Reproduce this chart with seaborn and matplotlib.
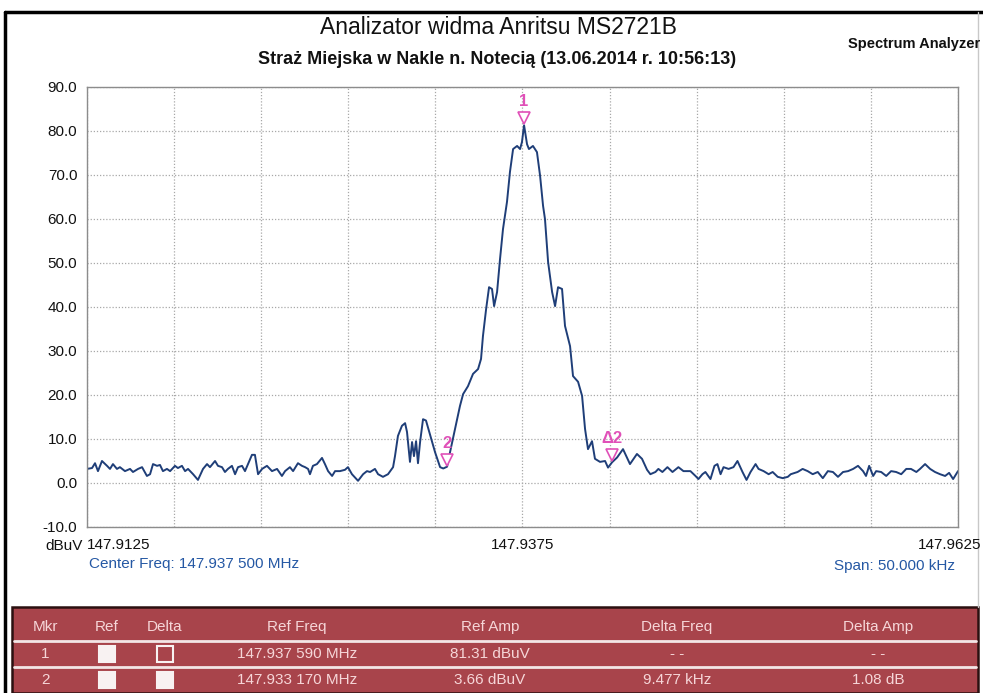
import numpy as np
import pandas as pd
import matplotlib
matplotlib.use("Agg")
import matplotlib.pyplot as plt
import seaborn as sns
from matplotlib import font_manager
from matplotlib.transforms import offset_copy
from matplotlib.patches import Rectangle

# ---------------- data ----------------
start_mhz = 147.9125
stop_mhz = 147.9625
offset_khz = [0.00, 0.29, 0.46, 0.63, 0.86, 1.15, 1.32, 1.49, 1.72, 1.89, 2.18, 2.47, 2.64, 2.93,
              3.16, 3.44, 3.62, 3.79, 4.02, 4.19, 4.36, 4.59, 4.77, 5.05, 5.22, 5.45, 5.63, 5.80,
              6.09, 6.37, 6.66, 6.89, 7.06, 7.35, 7.52, 7.75, 7.92, 8.09, 8.32, 8.50, 8.67, 8.90,
              9.07, 9.24, 9.47, 9.64, 9.82, 10.05, 10.33, 10.62, 10.91, 11.19, 11.37, 11.65, 11.83,
              12.11, 12.34, 12.52, 12.69, 12.80, 12.97, 13.20, 13.49, 13.66, 13.84, 14.07, 14.24,
              14.52, 14.81, 14.98, 15.21, 15.56, 15.85, 16.07, 16.25, 16.53, 16.71, 16.99, 17.28,
              17.57, 17.68, 17.85, 18.08, 18.26, 18.37, 18.54, 18.66, 18.77, 18.89, 19.00, 19.12,
              19.29, 19.46, 19.69, 19.98, 20.27, 20.45, 20.67, 20.84, 21.13, 21.41, 21.59, 21.87,
              22.16, 22.45, 22.62, 22.73, 22.91, 23.08, 23.25, 23.37, 23.54, 23.71, 23.88, 24.11,
              24.28, 24.46, 24.69, 24.86, 24.97, 25.09, 25.26, 25.37, 25.60, 25.83, 26.01, 26.18,
              26.29, 26.47, 26.70, 26.87, 27.04, 27.27, 27.44, 27.73, 27.90, 28.19, 28.42, 28.59,
              28.76, 28.99, 29.16, 29.45, 29.74, 29.91, 30.14, 30.43, 30.77, 31.17, 31.57, 31.86,
              32.15, 32.34, 32.63, 32.80, 33.03, 33.32, 33.61, 33.95, 34.24, 34.64, 34.93, 35.10,
              35.33, 35.50, 35.79, 36.02, 36.19, 36.37, 36.54, 36.83, 37.11, 37.34, 37.63, 37.86,
              38.09, 38.38, 38.55, 38.84, 39.13, 39.36, 39.65, 39.94, 40.23, 40.40, 40.79, 41.08,
              41.37, 41.66, 41.95, 42.24, 42.53, 42.82, 43.11, 43.40, 43.69, 43.98, 44.26, 44.55,
              44.72, 44.90, 45.13, 45.30, 45.59, 45.88, 46.16, 46.45, 46.74, 47.03, 47.30, 47.61,
              47.82, 48.11, 48.40, 48.68, 48.97, 49.26, 49.49, 49.72, 50.00]
level_dbuv = [3.2, 3.4, 4.5, 2.7, 5.0, 3.9, 3.2, 4.3, 3.2, 3.6, 2.7, 3.2, 2.5, 3.2,
              3.6, 1.6, 2.0, 4.3, 3.9, 4.1, 2.7, 3.2, 2.7, 3.9, 3.4, 3.9, 2.7, 3.2,
              2.0, 0.7, 3.2, 4.3, 3.6, 5.0, 3.9, 3.6, 2.5, 3.2, 3.9, 2.0, 3.6, 3.9,
              2.7, 4.3, 6.4, 6.4, 2.0, 3.2, 3.9, 2.7, 3.2, 1.6, 2.7, 3.6, 2.7,
              4.5, 3.9, 3.6, 3.2, 2.0, 3.9, 4.3, 5.7, 4.3, 2.7, 1.6, 2.7,
              2.7, 3.0, 3.6, 2.0, 0.5, 2.0, 2.7, 2.5, 3.2, 2.0, 1.4, 2.0,
              3.6, 6.1, 10.7, 13.0, 13.6, 11.6, 4.8, 9.3, 6.1, 9.5, 4.5, 9.3,
              14.5, 14.2, 11.0, 7.0, 3.6, 3.3, 3.7, 7.0, 12.3, 17.5, 20.2, 22.0,
              24.8, 25.9, 28.2, 33.4, 39.5, 44.5, 44.1, 40.2, 43.4, 50.9, 57.7, 63.9,
              70.7, 75.9, 76.6, 75.9, 77.5, 81.3, 77.0, 75.9, 76.6, 75.2, 69.8, 63.0,
              60.0, 50.2, 43.4, 40.2, 44.5, 44.1, 35.7, 31.1, 24.3, 23.0, 19.8, 12.3,
              7.7, 9.5, 5.5, 4.8, 5.0, 3.5, 4.7, 5.8, 7.7, 4.3, 6.6, 5.5,
              3.0, 2.0, 2.5, 3.2, 2.5, 3.6, 2.5, 3.6, 2.7, 2.7, 1.6, 0.9,
              2.0, 2.5, 0.9, 3.9, 4.3, 2.0, 3.6, 3.2, 3.6, 5.0, 2.5, 0.7,
              2.5, 4.3, 3.2, 2.7, 2.0, 2.5, 1.4, 1.1, 1.4, 2.0, 2.5, 3.2,
              2.7, 2.0, 2.5, 1.1, 2.7, 2.5, 1.4, 2.5, 2.7, 3.2, 3.9, 2.7,
              1.6, 3.9, 1.6, 2.7, 2.5, 1.6, 2.7, 2.5, 2.0, 3.2, 3.2, 2.5,
              3.2, 4.3, 3.2, 2.5, 2.0, 1.6, 2.3, 0.9, 2.7]

marker_freq_mhz = [147.937590, 147.933170, 147.942647]
marker_amp = [81.31, 3.66, 4.74]
marker_labels = ["1", "2", "\u03942"]

ytick_values = [-10, 0, 10, 20, 30, 40, 50, 60, 70, 80, 90]
xtick_labels = ["147.9125", "147.9375", "147.9625"]

title = "Analizator widma Anritsu MS2721B"
subtitle = "Stra\u017c Miejska w Nakle n. Noteci\u0105 (13.06.2014 r. 10:56:13)"
corner_label = "Spectrum Analyzer"
center_text = "Center Freq: 147.937 500 MHz"
span_text = "Span: 50.000 kHz"
unit_text = "dBuV"

table_header = ["Mkr", "Ref", "Delta", "Ref Freq", "Ref Amp", "Delta Freq", "Delta Amp"]
table_row1 = ["1", "", "", "147.937 590 MHz", "81.31 dBuV", "- -", "- -"]
table_row2 = ["2", "", "", "147.933 170 MHz", "3.66 dBuV", "9.477 kHz", "1.08 dB"]

# ---------------- style ----------------
sns.set_style("white")
names = {f.name for f in font_manager.fontManager.ttflist}
narrow = "Liberation Sans Narrow" if "Liberation Sans Narrow" in names else "Liberation Sans"
plt.rcParams["font.family"] = ["Liberation Sans", "DejaVu Sans"]

W, H = 983, 693
fig = plt.figure(figsize=(W / 100, H / 100), dpi=100)
fig.patch.set_facecolor("white")

# overlay in pixel coordinates for page decorations
ov = fig.add_axes([0, 0, 1, 1])
ov.set_xlim(0, W)
ov.set_ylim(H, 0)
ov.axis("off")

# main chart
ax = fig.add_axes([87 / W, 1 - 527 / H, 871 / W, 440 / H])
df = pd.DataFrame({"freq": start_mhz + np.array(offset_khz) / 1000.0, "level": level_dbuv})
sns.lineplot(data=df, x="freq", y="level", ax=ax, color="#1f3e78", lw=1.4)
ax.set_xlim(start_mhz, stop_mhz)
ax.set_ylim(-10, 90)
ax.set_xlabel("")
ax.set_ylabel("")

xt = np.linspace(start_mhz, stop_mhz, 11)
ax.set_xticks(xt)
lbls = [""] * 11
lbls[0], lbls[5] = xtick_labels[0], xtick_labels[1]
ax.set_xticklabels(lbls, fontsize=11)
tl = ax.get_xticklabels()
tl[0].set_ha("left")
ax.set_yticks(ytick_values)
ax.set_yticklabels([f"{v:.1f}" for v in ytick_values], fontsize=11)
ax.tick_params(axis="both", length=0, pad=7, colors="#111111")
ax.tick_params(axis="x", pad=8)
ax.grid(True, color="#a8a8a8", linestyle=(0, (1, 1.5)), lw=0.9)
for s in ax.spines.values():
    s.set_color("#8c8c8c")
    s.set_linewidth(1.0)
# right-hand tick label sits past the plot edge, as in the reference
ov.text(981, 545, xtick_labels[2], fontsize=11, ha="right", va="center", color="#111111")

# markers
for f, a, lab in zip(marker_freq_mhz, marker_amp, marker_labels):
    tr = offset_copy(ax.transData, fig=fig, x=0, y=5, units="points")
    ax.plot([f], [a], marker="v", ms=8.5, mfc="white", mec="#e050b8", mew=1.2,
            transform=tr, clip_on=False, zorder=5)
    tr2 = offset_copy(ax.transData, fig=fig, x=0, y=17, units="points")
    ax.text(f, a, lab, transform=tr2, color="#e050b8", fontsize=12, fontweight="bold",
            ha="center", va="center", family=[narrow, "DejaVu Sans"], zorder=6)

# page frame
ov.plot([5, 5], [12, H], color="black", lw=2.5)
ov.plot([5, W], [12, 12], color="black", lw=2.5)
ov.plot([978, 978], [12, 607], color="#c8c8c8", lw=1)

# titles
ov.text(498, 27, title, fontsize=16.5, ha="center", va="center", color="#111111",
        family=[narrow, "DejaVu Sans"])
ov.text(497, 60, subtitle, fontsize=13, ha="center", va="center", color="#111111",
        fontweight="bold", family=[narrow, "DejaVu Sans"])
ov.text(848, 44, corner_label, fontsize=10.5, ha="left", va="center", color="#111111",
        fontweight="bold", family=[narrow, "DejaVu Sans"])

ov.text(83, 546, unit_text, fontsize=11, ha="right", va="center", color="#111111")
ov.text(89, 564, center_text, fontsize=11, ha="left", va="center", color="#2558a4")
ov.text(955, 566, span_text, fontsize=11, ha="right", va="center", color="#2558a4")

# marker table
tab_col = "#a8444b"
txt_col = "#f6d6d8"
ov.add_patch(Rectangle((12, 607), 966, 86, facecolor=tab_col, edgecolor="#2a1010", lw=1.8))
ov.plot([14, 976], [641, 641], color="#f3e6e6", lw=2)
ov.plot([14, 976], [667, 667], color="#f3e6e6", lw=2)
col_x = [45, 107, 165, 297, 490, 677, 878]
for x, h in zip(col_x, table_header):
    ov.text(x, 627, h, fontsize=11, ha="center", va="center", color=txt_col)
for y, row, fills in [(654, table_row1, ["#f8f2f2", tab_col]), (680, table_row2, ["#f8f2f2", "#f8f2f2"])]:
    for i, (x, t) in enumerate(zip(col_x, row)):
        if i in (1, 2):
            ov.add_patch(Rectangle((x - 8, y - 8), 16, 16, facecolor=fills[i - 1],
                                   edgecolor="#f8f2f2", lw=1.5))
        else:
            ov.text(x, y, t, fontsize=11, ha="center", va="center", color=txt_col)

fig.savefig("out.png", dpi=100)
